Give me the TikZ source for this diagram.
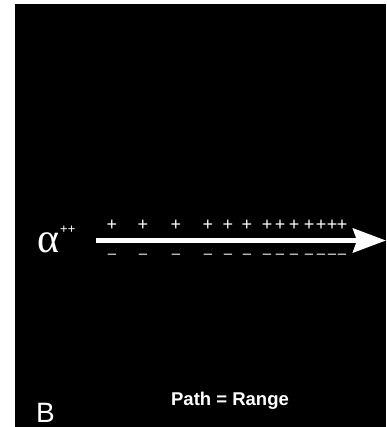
\documentclass[tikz,border=0pt]{standalone}
\usepackage{fontspec}
\setmainfont{Liberation Sans}
\newfontfamily\greekfont{Liberation Serif}
\usetikzlibrary{arrows.meta}

\tikzset{
  label/.style={text=white,inner sep=0pt},
  charge/.style={label,anchor=base,font=\fontsize{18}{18}\selectfont},
  flow/.style={white,line width=5pt,-{Stealth[length=33pt,width=24pt,inset=4pt]}},
}

\begin{document}
\begin{tikzpicture}[x=1pt,y=1pt]
  \useasboundingbox (0,0) rectangle (386,427);
  \fill[black] (15,0) rectangle (386,423);
  % particle and its path
  \node[label,anchor=base west,font=\greekfont\fontsize{42}{42}\selectfont] (alpha) at (37,174) {α};
  \node[label,anchor=base west,font=\fontsize{13}{13}\selectfont] (alphacharge) at (60,193) {++};
  \coordinate (start) at (96,186.5);
  \coordinate (stop) at (386,186.5);
  \draw[flow] (start) -- (stop);
  % ion pairs along the track
  \foreach \px [count=\i] in {112,143,176,208,228,247,267,280,294,309,321,332,342}{%
    \node[charge] (plus\i) at (\px,196) {+};
    \node[charge,font=\fontsize{15}{15}\selectfont] (minus\i) at (\px,168) {–};
  }
  \node[label,anchor=base west,font=\fontsize{28}{28}\selectfont] (panel) at (36,5) {B};
  \node[label,anchor=base,font=\bfseries\fontsize{18.5}{18.5}\selectfont] (caption) at (230,21) {Path = Range};
\end{tikzpicture}
\end{document}
